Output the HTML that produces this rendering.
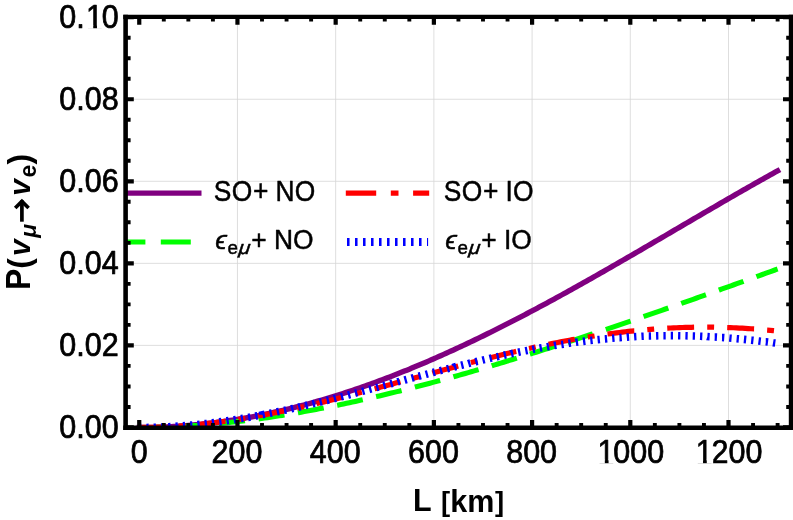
<!DOCTYPE html>
<html><head><meta charset="utf-8"><title>P(νμ→νe) vs L</title>
<style>html,body{margin:0;padding:0;background:#fff;overflow:hidden}body{width:793px;height:520px;position:relative;font-family:"Liberation Sans",sans-serif}</style>
</head><body>
<div id="plot" style="position:absolute;left:0;top:0;width:793px;height:520px;will-change:transform;transform:translateZ(0)">
<svg width="793" height="520" viewBox="0 0 793 520" style="display:block;position:absolute;left:0;top:0" font-family="'Liberation Sans', sans-serif">
<rect x="0" y="0" width="793" height="520" fill="#ffffff"/>
<path d="M237.46 16.9 V427.7 M335.67 16.9 V427.7 M433.88 16.9 V427.7 M532.09 16.9 V427.7 M630.30 16.9 V427.7 M728.51 16.9 V427.7 M125.6 345.40 H791.1 M125.6 263.35 H791.1 M125.6 181.30 H791.1 M125.6 99.25 H791.1" stroke="#d6d6d6" stroke-width="0.8" fill="none"/>
<clipPath id="pc"><rect x="125.6" y="16.9" width="665.5" height="412.8"/></clipPath>
<g clip-path="url(#pc)" fill="none">
<path d="M118 193.2 H201.5" stroke="#800080" stroke-width="5.2"/>
<path d="M115.4 242.0 H199" stroke="#00ff00" stroke-width="5.2" stroke-dasharray="30 15.4"/>
<path d="M345.8 193.2 H429.2" stroke="#ff0000" stroke-width="5.2" stroke-dasharray="30.4 14.6 7.7 14.6"/>
<path d="M347 242.0 H428.1" stroke="#0000ff" stroke-width="7.8" stroke-dasharray="2.55 5.45"/>
<path d="M139.25 427.53 L141.71 427.52 L144.16 427.51 L146.62 427.48 L149.07 427.44 L151.53 427.40 L153.98 427.34 L156.44 427.27 L158.89 427.20 L161.35 427.11 L163.80 427.01 L166.26 426.90 L168.71 426.78 L171.17 426.66 L173.62 426.52 L176.08 426.37 L178.53 426.21 L180.99 426.04 L183.44 425.86 L185.90 425.67 L188.35 425.47 L190.81 425.26 L193.27 425.04 L195.72 424.81 L198.18 424.57 L200.63 424.32 L203.09 424.06 L205.54 423.79 L208.00 423.51 L210.45 423.22 L212.91 422.92 L215.36 422.61 L217.82 422.29 L220.27 421.96 L222.73 421.62 L225.18 421.27 L227.64 420.91 L230.09 420.54 L232.55 420.16 L235.00 419.78 L237.46 419.38 L239.92 418.97 L242.37 418.55 L244.83 418.13 L247.28 417.69 L249.74 417.24 L252.19 416.79 L254.65 416.32 L257.10 415.85 L259.56 415.36 L262.01 414.87 L264.47 414.37 L266.92 413.85 L269.38 413.33 L271.83 412.80 L274.29 412.26 L276.74 411.71 L279.20 411.15 L281.65 410.58 L284.11 410.01 L286.56 409.42 L289.02 408.82 L291.48 408.22 L293.93 407.60 L296.39 406.98 L298.84 406.35 L301.30 405.71 L303.75 405.06 L306.21 404.40 L308.66 403.73 L311.12 403.05 L313.57 402.37 L316.03 401.67 L318.48 400.97 L320.94 400.26 L323.39 399.54 L325.85 398.81 L328.30 398.07 L330.76 397.32 L333.21 396.57 L335.67 395.81 L338.13 395.03 L340.58 394.25 L343.04 393.46 L345.49 392.67 L347.95 391.86 L350.40 391.05 L352.86 390.23 L355.31 389.39 L357.77 388.56 L360.22 387.71 L362.68 386.85 L365.13 385.99 L367.59 385.12 L370.04 384.24 L372.50 383.35 L374.95 382.46 L377.41 381.56 L379.86 380.65 L382.32 379.73 L384.77 378.80 L387.23 377.87 L389.69 376.93 L392.14 375.98 L394.60 375.02 L397.05 374.06 L399.51 373.09 L401.96 372.11 L404.42 371.12 L406.87 370.13 L409.33 369.13 L411.78 368.12 L414.24 367.10 L416.69 366.08 L419.15 365.05 L421.60 364.01 L424.06 362.97 L426.51 361.92 L428.97 360.86 L431.42 359.80 L433.88 358.73 L436.34 357.65 L438.79 356.56 L441.25 355.47 L443.70 354.38 L446.16 353.27 L448.61 352.16 L451.07 351.04 L453.52 349.92 L455.98 348.79 L458.43 347.65 L460.89 346.51 L463.34 345.36 L465.80 344.20 L468.25 343.04 L470.71 341.88 L473.16 340.70 L475.62 339.52 L478.07 338.34 L480.53 337.15 L482.99 335.95 L485.44 334.75 L487.90 333.54 L490.35 332.33 L492.81 331.11 L495.26 329.89 L497.72 328.66 L500.17 327.42 L502.63 326.18 L505.08 324.93 L507.54 323.68 L509.99 322.43 L512.45 321.17 L514.90 319.90 L517.36 318.63 L519.81 317.35 L522.27 316.07 L524.72 314.79 L527.18 313.50 L529.63 312.20 L532.09 310.91 L534.55 309.60 L537.00 308.29 L539.46 306.98 L541.91 305.67 L544.37 304.34 L546.82 303.02 L549.28 301.69 L551.73 300.36 L554.19 299.02 L556.64 297.68 L559.10 296.34 L561.55 294.99 L564.01 293.64 L566.46 292.28 L568.92 290.92 L571.37 289.56 L573.83 288.19 L576.28 286.82 L578.74 285.45 L581.19 284.08 L583.65 282.70 L586.11 281.32 L588.56 279.93 L591.02 278.54 L593.47 277.15 L595.93 275.76 L598.38 274.36 L600.84 272.97 L603.29 271.56 L605.75 270.16 L608.20 268.76 L610.66 267.35 L613.11 265.94 L615.57 264.53 L618.02 263.11 L620.48 261.70 L622.93 260.28 L625.39 258.86 L627.84 257.44 L630.30 256.01 L632.76 254.59 L635.21 253.16 L637.67 251.73 L640.12 250.30 L642.58 248.87 L645.03 247.44 L647.49 246.01 L649.94 244.57 L652.40 243.14 L654.85 241.70 L657.31 240.27 L659.76 238.83 L662.22 237.39 L664.67 235.96 L667.13 234.52 L669.58 233.08 L672.04 231.64 L674.49 230.20 L676.95 228.76 L679.40 227.32 L681.86 225.88 L684.32 224.44 L686.77 223.01 L689.23 221.57 L691.68 220.13 L694.14 218.69 L696.59 217.26 L699.05 215.82 L701.50 214.39 L703.96 212.95 L706.41 211.52 L708.87 210.09 L711.32 208.66 L713.78 207.23 L716.23 205.80 L718.69 204.37 L721.14 202.95 L723.60 201.52 L726.05 200.10 L728.51 198.68 L730.97 197.27 L733.42 195.85 L735.88 194.44 L738.33 193.03 L740.79 191.62 L743.24 190.21 L745.70 188.81 L748.15 187.40 L750.61 186.01 L753.06 184.61 L755.52 183.22 L757.97 181.83 L760.43 180.44 L762.88 179.06 L765.34 177.68 L767.79 176.30 L770.25 174.93 L772.70 173.56 L775.16 172.20 L777.62 170.83" stroke="#800080" stroke-width="5.4" stroke-linecap="square" stroke-linejoin="round"/>
<path d="M139.25 427.60 L139.74 427.60 L142.69 427.59 L145.63 427.57 L148.58 427.54 L151.53 427.50 L154.47 427.45 L157.42 427.38 L160.37 427.30 L163.31 427.22 L165.44 427.14 M179.13 426.56 L179.52 426.54 L182.46 426.38 L185.41 426.21 L188.35 426.03 L191.30 425.84 L194.25 425.64 L197.19 425.43 L200.14 425.21 L203.09 424.98 L205.27 424.80 M218.92 423.57 L219.29 423.54 L222.24 423.25 L225.18 422.94 L228.13 422.63 L231.08 422.31 L234.02 421.98 L236.97 421.64 L239.92 421.29 L242.86 420.94 L244.96 420.68 M258.54 418.89 L258.58 418.88 L261.52 418.47 L264.47 418.05 L267.41 417.63 L270.36 417.19 L273.31 416.74 L276.25 416.29 L279.20 415.83 L282.15 415.36 L284.45 414.99 M297.96 412.72 L298.35 412.65 L301.30 412.13 L304.24 411.61 L307.19 411.07 L310.14 410.53 L313.08 409.99 L316.03 409.43 L318.97 408.87 L321.92 408.30 L323.72 407.95 M337.15 405.25 L337.63 405.16 L340.58 404.54 L343.53 403.93 L346.47 403.30 L349.42 402.67 L352.37 402.04 L355.31 401.39 L358.26 400.74 L361.20 400.09 L362.76 399.74 M376.12 396.68 L376.43 396.61 L379.37 395.91 L382.32 395.22 L385.27 394.51 L388.21 393.80 L391.16 393.09 L394.10 392.37 L397.05 391.64 L400.00 390.91 L401.58 390.52 M414.86 387.15 L415.22 387.05 L418.17 386.29 L421.11 385.52 L424.06 384.75 L427.01 383.97 L429.95 383.19 L432.90 382.40 L435.84 381.61 L438.79 380.82 L440.19 380.44 M453.39 376.80 L453.52 376.76 L456.47 375.94 L459.41 375.11 L462.36 374.28 L465.31 373.44 L468.25 372.60 L471.20 371.76 L474.15 370.91 L477.09 370.05 L478.59 369.62 M491.74 365.76 L491.82 365.73 L494.77 364.85 L497.72 363.97 L500.66 363.09 L503.61 362.20 L506.56 361.31 L509.50 360.42 L512.45 359.52 L515.39 358.62 L516.82 358.18 M529.90 354.13 L530.13 354.06 L533.07 353.13 L536.02 352.21 L538.96 351.28 L541.91 350.35 L544.86 349.42 L547.80 348.48 L550.75 347.54 L553.70 346.60 L554.88 346.22 M567.92 342.00 L567.94 342.00 L570.88 341.04 L573.83 340.07 L576.78 339.11 L579.72 338.14 L582.67 337.17 L585.61 336.20 L588.56 335.22 L591.51 334.25 L592.80 333.82 M605.80 329.47 L606.24 329.32 L609.18 328.33 L612.13 327.34 L615.08 326.34 L618.02 325.34 L620.97 324.34 L623.92 323.34 L626.86 322.34 L629.81 321.33 L630.61 321.06 M643.57 316.61 L644.05 316.44 L647.00 315.42 L649.94 314.40 L652.89 313.38 L655.83 312.36 L658.78 311.34 L661.73 310.31 L664.67 309.28 L667.62 308.26 L668.32 308.01 M681.24 303.48 L681.37 303.43 L684.32 302.40 L687.26 301.36 L690.21 300.32 L693.15 299.28 L696.10 298.23 L699.05 297.19 L701.99 296.14 L704.94 295.10 L705.94 294.74 M718.85 290.14 L719.18 290.02 L722.13 288.97 L725.07 287.92 L728.02 286.86 L730.97 285.81 L733.91 284.75 L736.86 283.69 L739.80 282.64 L742.75 281.58 L743.51 281.30 M756.40 276.66 L756.50 276.62 L759.45 275.56 L762.39 274.50 L765.34 273.43 L768.29 272.37 L771.23 271.30 L774.18 270.24 L777.12 269.17 L777.62 268.99" stroke="#00ff00" stroke-width="5.1" stroke-linejoin="round"/>
<path d="M139.25 427.48 L139.74 427.48 L142.69 427.47 L145.63 427.44 L148.58 427.40 L151.53 427.34 L154.47 427.27 L157.42 427.18 L160.37 427.08 L163.31 426.96 L165.92 426.85 M178.97 426.10 L179.03 426.09 L181.97 425.88 L184.92 425.66 L185.83 425.59 M198.84 424.42 L199.16 424.39 L202.10 424.09 L205.05 423.77 L208.00 423.44 L210.94 423.10 L213.89 422.75 L216.84 422.38 L219.78 422.00 L222.73 421.61 L225.48 421.23 M238.41 419.32 L238.44 419.31 L241.39 418.85 L244.33 418.37 L245.20 418.23 M258.08 416.00 L258.08 416.00 L261.03 415.46 L263.98 414.91 L266.92 414.35 L269.87 413.78 L272.82 413.21 L275.76 412.62 L278.71 412.02 L281.65 411.42 L284.40 410.85 M297.18 408.09 L297.37 408.05 L300.31 407.39 L303.26 406.72 L303.89 406.58 M316.62 403.62 L317.01 403.52 L319.96 402.82 L322.90 402.11 L325.85 401.39 L328.80 400.67 L331.74 399.94 L334.69 399.20 L337.63 398.46 L340.58 397.72 L342.66 397.19 M355.31 393.92 L355.80 393.79 L358.75 393.02 L361.70 392.24 L361.97 392.17 M374.59 388.80 L374.95 388.70 L377.90 387.91 L380.85 387.11 L383.79 386.31 L386.74 385.51 L389.69 384.71 L392.63 383.91 L395.58 383.10 L398.52 382.30 L400.48 381.76 M413.08 378.30 L413.26 378.25 L416.20 377.45 L419.15 376.64 L419.72 376.48 M432.32 373.03 L432.41 373.00 L435.35 372.20 L438.30 371.40 L441.25 370.60 L444.19 369.80 L447.14 369.00 L450.08 368.21 L453.03 367.42 L455.98 366.63 L458.22 366.03 M470.85 362.69 L471.20 362.60 L474.15 361.83 L477.09 361.07 L477.51 360.96 M490.18 357.73 L490.35 357.69 L493.30 356.95 L496.24 356.22 L499.19 355.49 L502.14 354.77 L505.08 354.05 L508.03 353.34 L510.97 352.64 L513.92 351.94 L516.25 351.40 M528.98 348.48 L529.14 348.45 L532.09 347.79 L535.04 347.15 L535.70 347.00 M548.49 344.30 L548.79 344.24 L551.73 343.64 L554.68 343.04 L557.62 342.46 L560.57 341.89 L563.52 341.32 L566.46 340.77 L569.41 340.22 L572.36 339.68 L574.85 339.24 M587.76 337.03 L588.07 336.98 L591.02 336.51 L593.96 336.05 L594.58 335.95 M607.54 334.05 L607.71 334.03 L610.66 333.63 L613.60 333.23 L616.55 332.86 L619.50 332.49 L622.44 332.13 L625.39 331.79 L628.34 331.45 L631.28 331.13 L634.23 330.82 L634.24 330.82 M647.28 329.60 L647.49 329.58 L650.43 329.34 L653.38 329.11 L654.16 329.05 M667.23 328.19 L667.62 328.17 L670.57 328.01 L673.51 327.87 L676.46 327.74 L679.40 327.62 L682.35 327.52 L685.30 327.42 L688.24 327.34 L691.19 327.28 L694.11 327.22 M707.21 327.14 L707.39 327.14 L710.34 327.16 L713.29 327.19 L714.11 327.21 M727.21 327.52 L727.53 327.53 L730.47 327.64 L733.42 327.76 L736.37 327.89 L739.31 328.04 L742.26 328.20 L745.21 328.37 L748.15 328.55 L751.10 328.75 L754.04 328.96 L754.07 328.96 M767.12 330.05 L767.30 330.06 L770.25 330.34 L773.20 330.63 L773.99 330.71" stroke="#ff0000" stroke-width="5.2" stroke-linejoin="round"/>
<path d="M139.25 427.49 L139.74 427.49 L141.35 427.48 M146.36 427.44 L146.62 427.44 L148.66 427.41 M153.67 427.30 L153.98 427.29 L155.97 427.23 M160.98 427.05 L161.35 427.04 L163.27 426.96 M168.28 426.72 L168.71 426.69 L170.57 426.59 M175.58 426.29 L175.59 426.29 L177.87 426.13 M182.87 425.76 L182.95 425.76 L185.16 425.58 M190.16 425.15 L190.32 425.14 L192.44 424.95 M197.44 424.46 L197.68 424.43 L199.72 424.22 M204.71 423.68 L205.05 423.64 L206.98 423.42 M211.97 422.82 L212.42 422.76 L214.24 422.53 M219.22 421.88 L219.29 421.87 L221.49 421.57 M226.46 420.87 L226.66 420.84 L228.73 420.53 M233.69 419.78 L234.02 419.73 L235.95 419.43 M240.90 418.63 L241.39 418.55 L243.17 418.25 M248.11 417.40 L248.26 417.38 L250.37 417.01 M255.31 416.12 L255.63 416.06 L257.57 415.70 M262.50 414.78 L262.50 414.77 L264.75 414.34 M269.67 413.37 L269.87 413.33 L271.92 412.92 M276.84 411.92 L277.24 411.83 L279.08 411.45 M283.99 410.41 L284.11 410.39 L286.23 409.93 M291.13 408.86 L291.48 408.78 L293.37 408.36 M298.27 407.26 L298.35 407.24 L300.50 406.75 M305.39 405.62 L305.72 405.54 L307.63 405.10 M312.51 403.94 L312.59 403.92 L314.74 403.41 M319.62 402.23 L319.96 402.15 L321.84 401.68 M326.71 400.48 L326.83 400.46 L328.94 399.93 M333.81 398.71 L334.20 398.61 L336.03 398.15 M340.89 396.91 L341.07 396.87 L343.12 396.34 M347.97 395.09 L348.44 394.97 L350.19 394.51 M355.05 393.25 L355.31 393.18 L357.27 392.67 M362.12 391.39 L362.19 391.37 L364.34 390.81 M369.19 389.52 L369.55 389.42 L371.40 388.93 M376.25 387.64 L376.43 387.59 L378.47 387.05 M383.31 385.75 L383.79 385.62 L385.53 385.16 M390.38 383.86 L390.67 383.78 L392.59 383.26 M397.44 381.96 L397.54 381.93 L399.65 381.37 M404.50 380.07 L404.91 379.96 L406.71 379.47 M411.56 378.18 L411.78 378.12 L413.78 377.58 M418.62 376.29 L418.66 376.28 L420.84 375.70 M425.69 374.42 L426.02 374.33 L427.91 373.84 M432.76 372.56 L432.90 372.53 L434.98 371.98 M439.84 370.72 L440.26 370.61 L442.06 370.14 M446.92 368.89 L447.14 368.83 L449.14 368.32 M454.00 367.09 L454.01 367.08 L456.22 366.53 M461.09 365.31 L461.38 365.24 L463.32 364.75 M468.19 363.56 L468.25 363.54 L470.42 363.01 M475.29 361.83 L475.62 361.75 L477.52 361.30 M482.41 360.14 L482.49 360.12 L484.64 359.62 M489.53 358.49 L489.86 358.41 L491.76 357.98 M496.66 356.87 L496.73 356.86 L498.90 356.37 M503.80 355.30 L504.10 355.23 L506.04 354.81 M510.95 353.77 L510.97 353.76 L513.19 353.29 M518.10 352.28 L518.34 352.23 L520.35 351.82 M525.27 350.84 L525.71 350.76 L527.52 350.40 M532.45 349.46 L532.58 349.43 L534.70 349.03 M539.64 348.13 L539.95 348.07 L541.90 347.72 M546.84 346.85 L547.31 346.77 L549.10 346.46 M554.05 345.64 L554.19 345.61 L556.31 345.27 M561.27 344.48 L561.55 344.44 L563.53 344.13 M568.49 343.39 L568.92 343.33 L570.77 343.06 M575.75 342.36 L575.79 342.35 L578.03 342.05 M583.01 341.40 L583.16 341.38 L585.30 341.11 M590.29 340.50 L590.52 340.48 L592.57 340.24 M597.57 339.68 L597.89 339.65 L599.86 339.44 M604.86 338.93 L605.26 338.90 L607.15 338.71 M612.16 338.26 L612.62 338.22 L614.46 338.06 M619.47 337.66 L619.50 337.66 L621.76 337.49 M626.78 337.14 L626.86 337.13 L629.08 336.99 M634.10 336.70 L634.23 336.69 L636.39 336.57 M641.42 336.33 L641.59 336.32 L643.72 336.23 M648.74 336.04 L648.96 336.04 L651.04 335.97 M656.07 335.84 L656.33 335.83 L658.37 335.79 M663.40 335.71 L663.69 335.71 L665.70 335.69 M670.73 335.66 L671.06 335.66 L673.03 335.66 M678.06 335.69 L678.42 335.70 L680.36 335.72 M685.39 335.80 L685.79 335.81 L687.69 335.85 M692.71 335.99 L693.15 336.00 L695.01 336.06 M700.04 336.25 L700.52 336.27 L702.34 336.35 M707.36 336.59 L707.39 336.60 L709.66 336.72 M714.68 337.01 L714.76 337.01 L716.98 337.15 M721.99 337.50 L722.13 337.50 L724.29 337.66 M729.30 338.05 L729.49 338.07 L731.59 338.24 M736.61 338.68 L736.86 338.70 L738.90 338.89 M743.90 339.37 L744.22 339.40 L746.19 339.60 M751.19 340.13 L751.59 340.17 L753.48 340.38 M758.48 340.94 L758.96 341.00 L760.76 341.21 M765.76 341.82 L765.83 341.82 L768.04 342.10 M773.03 342.74 L773.20 342.77 L775.31 343.05" stroke="#0000ff" stroke-width="7.6"/>
</g>
<path d="M123.3 16.9 H793.4" stroke="#000" stroke-width="4.2" fill="none"/>
<path d="M123.3 427.7 H793.4" stroke="#000" stroke-width="4.35" fill="none"/>
<path d="M125.6 14.799999999999999 V429.875" stroke="#000" stroke-width="4.6" fill="none"/>
<path d="M791.1 14.799999999999999 V429.875" stroke="#000" stroke-width="4.6" fill="none"/>
<path d="M139.25 427.7 V420.1 M139.25 16.9 V24.75 M237.46 427.7 V420.1 M237.46 16.9 V24.75 M335.67 427.7 V420.1 M335.67 16.9 V24.75 M433.88 427.7 V420.1 M433.88 16.9 V24.75 M532.09 427.7 V420.1 M532.09 16.9 V24.75 M630.30 427.7 V420.1 M630.30 16.9 V24.75 M728.51 427.7 V420.1 M728.51 16.9 V24.75 M125.6 427.45 H133.8 M791.1 427.45 H783.0 M125.6 345.40 H133.8 M791.1 345.40 H783.0 M125.6 263.35 H133.8 M791.1 263.35 H783.0 M125.6 181.30 H133.8 M791.1 181.30 H783.0 M125.6 99.25 H133.8 M791.1 99.25 H783.0 M125.6 17.20 H133.8 M791.1 17.20 H783.0" stroke="#000" stroke-width="4.2" fill="none"/>
<path d="M163.80 427.7 V423.0 M163.80 16.9 V21.6 M188.35 427.7 V423.0 M188.35 16.9 V21.6 M212.91 427.7 V423.0 M212.91 16.9 V21.6 M262.01 427.7 V423.0 M262.01 16.9 V21.6 M286.56 427.7 V423.0 M286.56 16.9 V21.6 M311.12 427.7 V423.0 M311.12 16.9 V21.6 M360.22 427.7 V423.0 M360.22 16.9 V21.6 M384.77 427.7 V423.0 M384.77 16.9 V21.6 M409.33 427.7 V423.0 M409.33 16.9 V21.6 M458.43 427.7 V423.0 M458.43 16.9 V21.6 M482.99 427.7 V423.0 M482.99 16.9 V21.6 M507.54 427.7 V423.0 M507.54 16.9 V21.6 M556.64 427.7 V423.0 M556.64 16.9 V21.6 M581.19 427.7 V423.0 M581.19 16.9 V21.6 M605.75 427.7 V423.0 M605.75 16.9 V21.6 M654.85 427.7 V423.0 M654.85 16.9 V21.6 M679.40 427.7 V423.0 M679.40 16.9 V21.6 M703.96 427.7 V423.0 M703.96 16.9 V21.6 M753.06 427.7 V423.0 M753.06 16.9 V21.6 M777.62 427.7 V423.0 M777.62 16.9 V21.6 M125.6 406.94 H130.6 M791.1 406.94 H786.2 M125.6 386.43 H130.6 M791.1 386.43 H786.2 M125.6 365.91 H130.6 M791.1 365.91 H786.2 M125.6 324.89 H130.6 M791.1 324.89 H786.2 M125.6 304.38 H130.6 M791.1 304.38 H786.2 M125.6 283.86 H130.6 M791.1 283.86 H786.2 M125.6 242.84 H130.6 M791.1 242.84 H786.2 M125.6 222.32 H130.6 M791.1 222.32 H786.2 M125.6 201.81 H130.6 M791.1 201.81 H786.2 M125.6 160.79 H130.6 M791.1 160.79 H786.2 M125.6 140.27 H130.6 M791.1 140.27 H786.2 M125.6 119.76 H130.6 M791.1 119.76 H786.2 M125.6 78.74 H130.6 M791.1 78.74 H786.2 M125.6 58.23 H130.6 M791.1 58.23 H786.2 M125.6 37.71 H130.6 M791.1 37.71 H786.2" stroke="#000" stroke-width="3.9" fill="none"/>
<g font-size="30.5" fill="#000" stroke="#000" stroke-width="0.7" stroke-linejoin="round">
<text x="139.25" y="462.8" text-anchor="middle" transform="translate(0 462.80) scale(1 1.06) translate(0 -462.80)">0</text>
<text x="237.01" y="462.8" text-anchor="middle" transform="translate(0 462.80) scale(1 1.06) translate(0 -462.80)">200</text>
<text x="335.22" y="462.8" text-anchor="middle" transform="translate(0 462.80) scale(1 1.06) translate(0 -462.80)">400</text>
<text x="433.43" y="462.8" text-anchor="middle" transform="translate(0 462.80) scale(1 1.06) translate(0 -462.80)">600</text>
<text x="531.64" y="462.8" text-anchor="middle" transform="translate(0 462.80) scale(1 1.06) translate(0 -462.80)">800</text>
<text x="597.57" y="462.80" transform="translate(0 462.80) scale(1 1.06) translate(0 -462.80)">1</text>
<text x="613.34" y="462.8" transform="translate(0 462.80) scale(1 1.06) translate(0 -462.80)">000</text>
<text x="695.78" y="462.80" transform="translate(0 462.80) scale(1 1.06) translate(0 -462.80)">1</text>
<text x="711.55" y="462.8" transform="translate(0 462.80) scale(1 1.06) translate(0 -462.80)">200</text>
<text x="118.7" y="438.40" text-anchor="end" transform="translate(0 438.40) scale(1 1.06) translate(0 -438.40)">0.00</text>
<text x="118.7" y="356.35" text-anchor="end" transform="translate(0 356.35) scale(1 1.06) translate(0 -356.35)">0.02</text>
<text x="118.7" y="274.30" text-anchor="end" transform="translate(0 274.30) scale(1 1.06) translate(0 -274.30)">0.04</text>
<text x="118.7" y="192.25" text-anchor="end" transform="translate(0 192.25) scale(1 1.06) translate(0 -192.25)">0.06</text>
<text x="118.7" y="110.20" text-anchor="end" transform="translate(0 110.20) scale(1 1.06) translate(0 -110.20)">0.08</text>
<text x="84.77" y="28.15" text-anchor="end" transform="translate(0 28.15) scale(1 1.06) translate(0 -28.15)">0.</text>
<text x="85.97" y="28.15" transform="translate(0 28.15) scale(1 1.06) translate(0 -28.15)">1</text>
<text x="101.74" y="28.15" transform="translate(0 28.15) scale(1 1.06) translate(0 -28.15)">0</text>
</g>
<path d="M597.37 459.55 H604.82 V463.40 H597.37 Z M608.57 459.55 H614.94 V463.40 H608.57 Z M695.58 459.55 H703.03 V463.40 H695.58 Z M706.78 459.55 H713.15 V463.40 H706.78 Z M85.77 24.90 H93.22 V28.75 H85.77 Z M96.97 24.90 H103.34 V28.75 H96.97 Z" fill="#fff"/>
<g font-size="30.5" font-weight="bold" fill="#000">
<text x="413" y="511.5" transform="translate(0 511.50) scale(1 1.03) translate(0 -511.50)">L</text>
<text x="440.12" y="511.5" transform="translate(449.4 503.9) scale(0.9 0.885) translate(-449.4 -503.55)">[</text>
<text x="450.28" y="511.5">km</text>
<text x="494.35" y="511.5" transform="translate(502.1 503.9) scale(0.9 0.885) translate(-502.1 -503.55)">]</text>
</g>
<g transform="translate(30.0 290.0) rotate(-90)" fill="#000" font-weight="bold" font-size="32" opacity="0.999">
<text x="0" y="0" transform="scale(1 1.10)">P</text>
<text x="21.34" y="0">(</text>
<text x="34.1" y="-0.4" font-size="29.8" font-style="italic">v</text>
<text x="52.2" y="6.3" font-size="23" font-style="italic">μ</text>
<path d="M68.3 -8.1 H89.7" stroke="#000" stroke-width="3.7" fill="none"/>
<path d="M81.9 -14.8 L88.60000000000001 -8.1 L81.9 -1.3999999999999995" stroke="#000" stroke-width="3.6" fill="none" stroke-linejoin="miter" stroke-miterlimit="10"/>
<text x="94.2" y="-0.4" font-size="29.8" font-style="italic">v</text>
<text x="112.5" y="6" font-size="23">e</text>
<text x="125.5" y="0">)</text>
</g>
<g font-size="26.4" fill="#000" stroke="#000" stroke-width="0.45" stroke-linejoin="round">
<text x="213.7" y="200.9" letter-spacing="0.55" transform="translate(0 200.90) scale(1 1.085) translate(0 -200.90)">SO+</text>
<text x="275.6" y="200.9" transform="translate(0 200.90) scale(1 1.085) translate(0 -200.90)">NO</text>
<text x="215.2" y="248.6" font-style="italic">ϵ</text>
<text x="227.6" y="254.0" font-size="18.8">e</text>
<text x="238.3" y="254.0" font-size="18.8" font-style="italic" transform="translate(238.3 254) skewX(-6) scale(1.12 1) translate(-238.3 -254)">μ</text>
<text x="251.2" y="249.0" transform="translate(0 249.00) scale(1 1.05) translate(0 -249.00)">+</text>
<text x="274.0" y="249.0" transform="translate(0 249.00) scale(1 1.075) translate(0 -249.00)">NO</text>
<text x="443.7" y="200.9" letter-spacing="0.55" transform="translate(0 200.90) scale(1 1.085) translate(0 -200.90)">SO+</text>
<text x="505.6" y="200.9" transform="translate(0 200.90) scale(1 1.085) translate(0 -200.90)">IO</text>
<text x="445.2" y="248.6" font-style="italic">ϵ</text>
<text x="457.6" y="254.0" font-size="18.8">e</text>
<text x="468.3" y="254.0" font-size="18.8" font-style="italic" transform="translate(468.3 254) skewX(-6) scale(1.12 1) translate(-468.3 -254)">μ</text>
<text x="481.2" y="249.0" transform="translate(0 249.00) scale(1 1.05) translate(0 -249.00)">+</text>
<text x="504.0" y="249.0" transform="translate(0 249.00) scale(1 1.075) translate(0 -249.00)">IO</text>
</g>
</svg>
</div>
</body></html>
